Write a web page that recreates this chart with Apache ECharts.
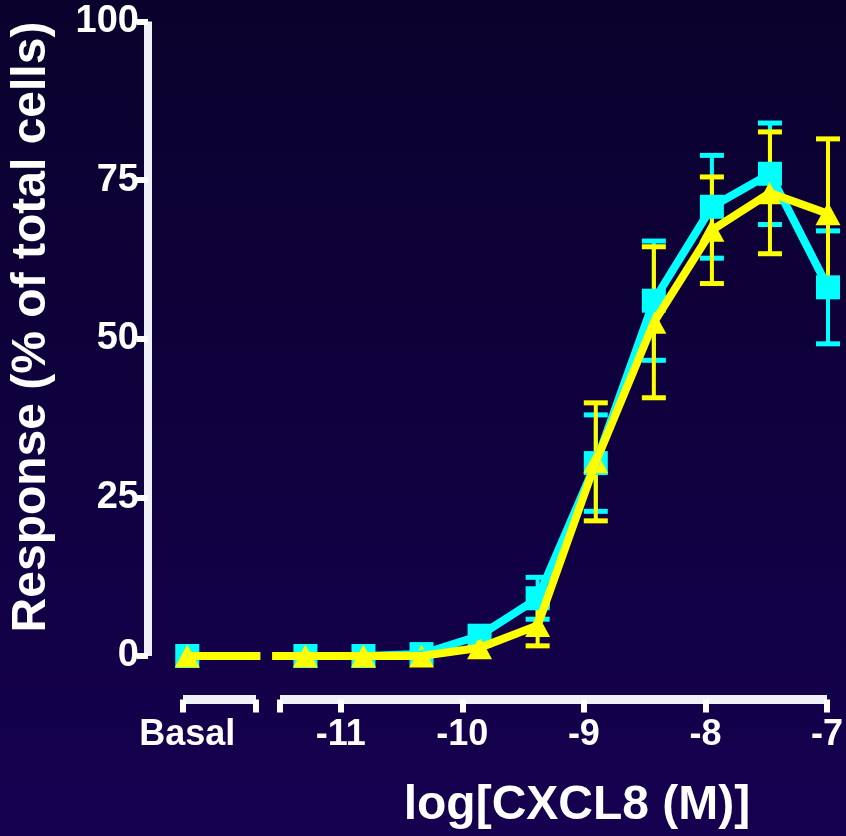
<!DOCTYPE html>
<html>
<head>
<meta charset="utf-8">
<script src="https://cdn.jsdelivr.net/npm/echarts@6/dist/echarts.min.js"></script>
<style>
  html, body { margin: 0; padding: 0; }
  #chart { width: 846px; height: 836px; }
</style>
</head>
<body>
<div id="chart"></div>
<script>
// x positions (log M); basal is drawn on its own short axis segment
var basalX = -12.265;
var logDose = [-11.294, -10.817, -10.34, -9.863, -9.386, -8.908, -8.431, -7.954, -7.477, -7.0];
var breakX = [-11.665, -11.567];
var xTicks = [-11, -10, -9, -8, -7];
var yTicks = [0, 25, 50, 75, 100];

// first value = basal
var cyanMean = [0, 0, 0, 0.3, 3.2, 9.1, 30.4, 56.0, 70.8, 76.0, 58.1];
var cyanSem = [0, 0, 0, 0, 0, 3.3, 7.6, 9.4, 8.1, 8.0, 8.9];
var yellowMean = [0, 0, 0, 0, 1.3, 4.8, 30.6, 52.6, 67.1, 73.0, 69.7];
var yellowSem = [0, 0, 0, 0, 0, 3.2, 9.3, 11.9, 8.4, 9.6, 11.8];

var FONT = "Liberation Sans";
var CYAN = "#00ffff";
var YELLOW = "#ffff00";

function points(mean) {
  var out = [];
  for (var i = 0; i < logDose.length; i++) {
    out.push([logDose[i], mean[i + 1]]);
  }
  return out;
}
function allPoints(mean, sem) {
  var out = [[basalX, mean[0], sem[0]]];
  for (var i = 0; i < logDose.length; i++) {
    out.push([logDose[i], mean[i + 1], sem[i + 1]]);
  }
  return out;
}
// line from basal point up to the axis break
function basalLink(mean) {
  return [[basalX, mean[0]], [breakX[0], mean[0]], null, [breakX[1], mean[1]], [logDose[0], mean[1]]];
}

function errorBars(color) {
  return function (params, api) {
    var x = api.value(0), y = api.value(1), e = api.value(2);
    if (!e) return null;
    var top = api.coord([x, y + e]);
    var bot = api.coord([x, y - e]);
    var hw = 12;
    return {
      type: "group",
      children: [
        { type: "line", shape: { x1: top[0], y1: top[1], x2: bot[0], y2: bot[1] }, style: { stroke: color, lineWidth: 4 } },
        { type: "line", shape: { x1: top[0] - hw, y1: top[1], x2: top[0] + hw, y2: top[1] }, style: { stroke: color, lineWidth: 5 } },
        { type: "line", shape: { x1: bot[0] - hw, y1: bot[1], x2: bot[0] + hw, y2: bot[1] }, style: { stroke: color, lineWidth: 5 } }
      ]
    };
  };
}

function group(name, color, mean, sem, symbol, size) {
  return [
    {
      name: name + " link",
      type: "line",
      xAxisIndex: 0, yAxisIndex: 0,
      data: basalLink(mean),
      showSymbol: false,
      connectNulls: false,
      lineStyle: { color: color, width: 8 },
      silent: true
    },
    {
      name: name,
      type: "line",
      xAxisIndex: 0, yAxisIndex: 0,
      data: points(mean),
      symbol: "none",
      lineStyle: { color: color, width: 8, join: "miter" }
    },
    {
      name: name + " marks",
      type: "scatter",
      xAxisIndex: 0, yAxisIndex: 0,
      data: allPoints(mean, sem),
      symbol: symbol,
      symbolSize: size,
      itemStyle: { color: color, opacity: 1 }
    },
    {
      name: name + " sem",
      type: "custom",
      xAxisIndex: 0, yAxisIndex: 0,
      data: allPoints(mean, sem),
      renderItem: errorBars(color)
    }
  ];
}

var axisLineStyle = { color: "#f0f0f8", width: 9, cap: "butt" };
var tickStyle = { color: "#ffffff", width: 6, cap: "butt" };
var labelStyle = { color: "#ffffff", fontWeight: "bold", fontFamily: FONT };

var chart = echarts.init(document.getElementById("chart"));
chart.setOption({
  backgroundColor: {
    type: "linear", x: 0, y: 0, x2: 0, y2: 1,
    colorStops: [
      { offset: 0, color: "#0a022c" },
      { offset: 1, color: "#150050" }
    ]
  },
  animation: false,
  textStyle: { fontFamily: FONT },
  grid: [
    { left: 183, right: 18, top: 21.5, bottom: 180 },
    { left: 183, width: 73, top: 21.5, bottom: 136.5 },
    { left: 280, right: 18, top: 21.5, bottom: 136.5 }
  ],
  xAxis: [
    { gridIndex: 0, type: "value", min: -12.3, max: -7, show: false },
    {
      gridIndex: 1, type: "value", min: -12.3, max: -11.7,
      splitLine: { show: false },
      axisLine: { lineStyle: axisLineStyle },
      axisTick: { customValues: [-12.3, -11.7], length: 13, lineStyle: tickStyle },
      axisLabel: Object.assign({
        customValues: [basalX],
        formatter: function () { return "Basal"; },
        fontSize: 36, margin: 18
      }, labelStyle)
    },
    {
      gridIndex: 2, type: "value", min: -11.5, max: -7,
      splitLine: { show: false },
      axisLine: { lineStyle: axisLineStyle },
      axisTick: { customValues: [-11.5].concat(xTicks), length: 13, lineStyle: tickStyle },
      axisLabel: Object.assign({ customValues: xTicks, fontSize: 36, margin: 18 }, labelStyle)
    }
  ],
  yAxis: [
    {
      gridIndex: 0, type: "value", min: 0, max: 100, interval: 25,
      offset: 35,
      splitLine: { show: false },
      axisLine: { show: true, lineStyle: { color: "#f0f0f8", width: 8, cap: "butt" } },
      axisTick: { show: true, length: 11, lineStyle: tickStyle },
      axisLabel: Object.assign({ customValues: yTicks, fontSize: 38, margin: 9 }, labelStyle)
    },
    { gridIndex: 1, type: "value", show: false },
    { gridIndex: 2, type: "value", show: false }
  ],
  graphic: [
    {
      type: "text",
      x: 32, y: 327,
      rotation: Math.PI / 2,
      style: {
        text: "Response (% of total cells)",
        fill: "#ffffff",
        font: "bold 48px '" + FONT + "'",
        textAlign: "center",
        textVerticalAlign: "middle"
      }
    },
    {
      type: "text",
      x: 577, y: 806,
      style: {
        text: "log[CXCL8 (M)]",
        fill: "#ffffff",
        font: "bold 48px '" + FONT + "'",
        textAlign: "center",
        textVerticalAlign: "middle"
      }
    }
  ],
  series: group("Cyan", CYAN, cyanMean, cyanSem, "rect", 24)
    .concat(group("Yellow", YELLOW, yellowMean, yellowSem, "triangle", [25, 23]))
});
</script>
</body>
</html>
